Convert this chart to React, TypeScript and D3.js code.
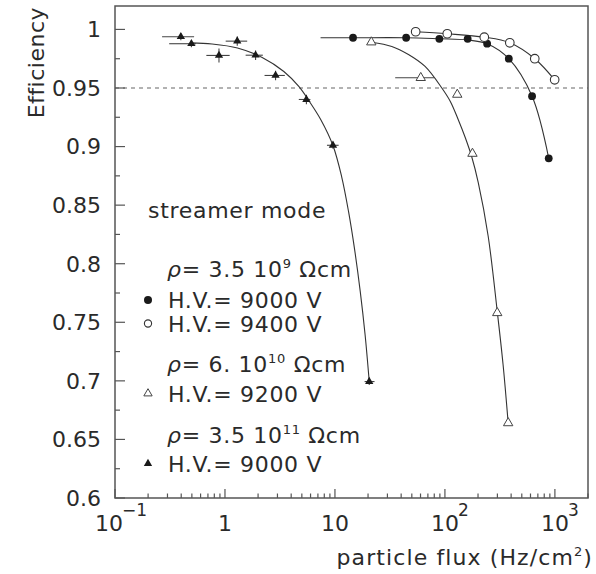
import * as d3 from 'd3';

// Efficiency vs particle flux, streamer mode, for several resistivities

// fitted curves
const fitA_x = [7.4, 14.6, 44, 89, 161, 242, 381, 620, 879];
const fitA_y = [0.9929, 0.9929, 0.9929, 0.992, 0.991, 0.9878, 0.975, 0.943, 0.89];
const fitB_x = [54, 105, 228, 389, 656, 995];
const fitB_y = [0.998, 0.9963, 0.9934, 0.9886, 0.975, 0.957];
const fitC_x = [21.4, 32.9, 46.6, 66, 93.4, 112, 132, 153, 175, 201, 247, 299, 338, 376];
const fitC_y = [0.9891, 0.9855, 0.9786, 0.9684, 0.9502, 0.9385, 0.9231, 0.9077, 0.8915, 0.8692, 0.8239, 0.7594, 0.7137, 0.664];
const fitD_x = [0.49, 0.762, 1.3, 2.18, 3.43, 4.69, 5.78, 7.42, 9.59, 11.5, 13.3, 15.1, 17.0, 18.8, 20.5];
const fitD_y = [0.9885, 0.9876, 0.9842, 0.9761, 0.9641, 0.9513, 0.9393, 0.9231, 0.9009, 0.8744, 0.8444, 0.812, 0.776, 0.7393, 0.6994];

// rho = 3.5e9, HV 9000 V (filled circles)
const circFilled_x = [14.6, 44.4, 89, 161, 242, 381, 620, 879];
const circFilled_y = [0.9929, 0.9929, 0.992, 0.992, 0.9878, 0.975, 0.943, 0.89];
// rho = 3.5e9, HV 9400 V (open circles)
const circOpen_x = [54.2, 105, 228, 389, 656, 995];
const circOpen_y = [0.998, 0.9963, 0.9934, 0.9886, 0.975, 0.957];
// rho = 6e10, HV 9200 V (open triangles)
const triOpen_x = [21.4, 60.3, 129.5, 178, 299, 376];
const triOpen_y = [0.9891, 0.9587, 0.9444, 0.894, 0.758, 0.664];
const triOpen_xlo = [21.4, 35.3, 129.5, 178, 299, 376];
const triOpen_xhi = [21.4, 80.2, 129.5, 178, 299, 376];
// rho = 3.5e11, HV 9000 V (filled triangles)
const triFilled_x = [0.397, 0.495, 0.882, 1.293, 1.898, 2.884, 5.5, 9.59, 20.5];
const triFilled_y = [0.9938, 0.9878, 0.9778, 0.99, 0.978, 0.9607, 0.9402, 0.9011, 0.6994];
const triFilled_xlo = [0.268, 0.311, 0.677, 1.015, 1.541, 2.29, 4.69, 8.46, 18.6];
const triFilled_xhi = [0.524, 0.546, 1.103, 1.592, 2.21, 3.5, 5.98, 10.8, 22.9];
const triFilled_yerr = [0.003, 0.003, 0.006, 0.004, 0.004, 0.004, 0.004, 0.003, 0.003];

const yTicks = [0.6, 0.65, 0.7, 0.75, 0.8, 0.85, 0.9, 0.95, 1];
const yTickLabels = ['0.6', '0.65', '0.7', '0.75', '0.8', '0.85', '0.9', '0.95', '1'];
const xDecades = [0.1, 1, 10, 100, 1000];
const xDecadeBase = ['10', '1', '10', '10', '10'];
const xDecadeExp = ['\u22121', '', '', '2', '3'];

const rhoMantissa = ['3.5 10', '6. 10', '3.5 10'];
const rhoExponent = ['9', '10', '11'];
const hvLabels = ['H.V.= 9000 V', 'H.V.= 9400 V', 'H.V.= 9200 V', 'H.V.= 9000 V'];

const W = 596;
const H = 574;
const left = 115, right = 588, top = 6, bottom = 498;
const FONT = '"DejaVu Sans", sans-serif';
const AXIS = '#555';
const INK = '#1a1a1a';
const TEXT = '#2a2a2a';

const x = d3.scaleLog().domain([0.1, 2000]).range([left, right]);
const y = d3.scaleLinear().domain([0.6, 1.02]).range([bottom, top]);

const fitLine = (xs: number[], ys: number[]) =>
  d3.line<number>()
    .x((d) => x(xs[d]))
    .y((d) => y(ys[d]))
    .curve(d3.curveCatmullRom.alpha(0.5))(d3.range(xs.length)) as string;

const triSmall = d3.symbol(d3.symbolTriangle, 30)() as string;
const triBig = d3.symbol(d3.symbolTriangle, 38)() as string;

// minor ticks on the log axis: 2..9 in each decade
const xMinor: number[] = [];
[0.1, 1, 10, 100, 1000].forEach((dec) => {
  for (let k = 2; k <= 9; k++) {
    const v = dec * k;
    if (v <= 2000) xMinor.push(v);
  }
});
const yMinor = yTicks.slice(0, -1).map((v) => v + 0.025);

const Marker = ({ kind, cx, cy, legend }: { kind: string; cx: number; cy: number; legend?: boolean }) => {
  if (kind === 'circFilled') return <circle cx={cx} cy={cy} r={legend ? 4 : 3.9} fill={INK} />;
  if (kind === 'circOpen') return <circle cx={cx} cy={cy} r={legend ? 3.6 : 4.3} fill="white" stroke="#333" strokeWidth={1.1} />;
  if (kind === 'triOpen')
    return <path d={legend ? triSmall : triBig} transform={`translate(${cx},${cy})`} fill="white" stroke="#444" strokeWidth={1} />;
  return <path d={triSmall} transform={`translate(${cx},${cy})`} fill={INK} />;
};

const App = () => {
  const legendRows = [
    { rho: 0, y: 277 },
    { hv: 0, kind: 'circFilled', y: 308 },
    { hv: 1, kind: 'circOpen', y: 331.5 },
    { rho: 1, y: 371.5 },
    { hv: 2, kind: 'triOpen', y: 401.5 },
    { rho: 2, y: 443 },
    { hv: 3, kind: 'triFilled', y: 471.5 },
  ];

  return (
    <svg width={W} height={H} style={{ position: 'absolute', left: 0, top: 0, background: 'white' }} fontFamily={FONT}>
      {/* 0.95 reference line */}
      <line x1={left} x2={right} y1={y(0.95)} y2={y(0.95)} stroke="#666" strokeWidth={1.2} strokeDasharray="4,4" />

      {/* fitted curves */}
      <g fill="none" stroke="#333" strokeWidth={1.1}>
        <path d={fitLine(fitA_x, fitA_y)} />
        <path d={fitLine(fitB_x, fitB_y)} />
        <path d={fitLine(fitC_x, fitC_y)} />
        <path d={fitLine(fitD_x, fitD_y)} />
      </g>

      {/* error bars */}
      <g stroke="#444" strokeWidth={1.1}>
        {triFilled_x.map((_, i) => (
          <g key={'ef' + i}>
            <line x1={x(triFilled_xlo[i])} x2={x(triFilled_xhi[i])} y1={y(triFilled_y[i])} y2={y(triFilled_y[i])} />
            <line x1={x(triFilled_x[i])} x2={x(triFilled_x[i])} y1={y(triFilled_y[i] - triFilled_yerr[i])} y2={y(triFilled_y[i] + triFilled_yerr[i])} />
          </g>
        ))}
        {triOpen_x.map((_, i) => (
          <line key={'eo' + i} x1={x(triOpen_xlo[i])} x2={x(triOpen_xhi[i])} y1={y(triOpen_y[i])} y2={y(triOpen_y[i])} />
        ))}
      </g>

      {/* markers */}
      {circFilled_x.map((v, i) => <Marker key={'cf' + i} kind="circFilled" cx={x(v)} cy={y(circFilled_y[i])} />)}
      {circOpen_x.map((v, i) => <Marker key={'co' + i} kind="circOpen" cx={x(v)} cy={y(circOpen_y[i])} />)}
      {triOpen_x.map((v, i) => <Marker key={'to' + i} kind="triOpen" cx={x(v)} cy={y(triOpen_y[i])} />)}
      {triFilled_x.map((v, i) => <Marker key={'tf' + i} kind="triFilled" cx={x(v)} cy={y(triFilled_y[i])} />)}

      {/* frame */}
      <rect x={left} y={top} width={right - left} height={bottom - top} fill="none" stroke={AXIS} strokeWidth={1.5} />

      {/* y axis ticks and labels */}
      <g stroke={AXIS} strokeWidth={1.2}>
        {yTicks.map((v) => <line key={'yt' + v} x1={left} x2={left + 10} y1={y(v)} y2={y(v)} />)}
        {yMinor.map((v) => <line key={'ym' + v} x1={left} x2={left + 5} y1={y(v)} y2={y(v)} />)}
      </g>
      <g fontSize={22} fill={TEXT} textAnchor="end">
        {yTicks.map((v, i) => (
          <text key={'yl' + v} x={101} y={y(v)} dy="0.36em">{yTickLabels[i]}</text>
        ))}
      </g>

      {/* x axis ticks and labels */}
      <g stroke={AXIS} strokeWidth={1.2}>
        {xDecades.map((v) => <line key={'xt' + v} x1={x(v)} x2={x(v)} y1={bottom} y2={bottom - 9} />)}
        {xMinor.map((v) => <line key={'xm' + v} x1={x(v)} x2={x(v)} y1={bottom} y2={bottom - 4.5} />)}
      </g>
      <g fontSize={22} fill={TEXT}>
        {xDecades.map((v, i) => (
          <g key={'xl' + v}>
            <text x={x(v) - (i === 0 ? 6 : 0)} y={531} textAnchor="middle">{xDecadeBase[i]}</text>
            {xDecadeExp[i] && (
              <text x={x(v) - (i === 0 ? 6 : 0) + 13} y={516} fontSize={17}>{xDecadeExp[i]}</text>
            )}
          </g>
        ))}
      </g>

      {/* axis titles */}
      <text x={593} y={565} fontSize={22} fill={TEXT} textAnchor="end" letterSpacing={1.1}>
        particle flux (Hz/cm<tspan dy={-9} fontSize={13}>2</tspan><tspan dy={9}>)</tspan>
      </text>
      <text transform="translate(44,7) rotate(-90)" fontSize={22} fill={TEXT} textAnchor="end" letterSpacing={0.5}>Efficiency</text>

      {/* legend */}
      <g fontSize={22} fill={TEXT} letterSpacing={0.7}>
        <text x={148} y={218}>streamer mode</text>
        {legendRows.map((r, i) =>
          r.rho !== undefined ? (
            <text key={'lg' + i} x={167} y={r.y}>
              <tspan fontStyle="italic">ρ</tspan>= {rhoMantissa[r.rho]}
              <tspan dy={-9} fontSize={13}>{rhoExponent[r.rho]}</tspan>
              <tspan dy={9}> Ωcm</tspan>
            </text>
          ) : (
            <g key={'lg' + i}>
              <Marker kind={r.kind as string} cx={148} cy={r.y - 8} legend />
              <text x={168} y={r.y}>{hvLabels[r.hv as number]}</text>
            </g>
          )
        )}
      </g>
    </svg>
  );
};

export default App;
